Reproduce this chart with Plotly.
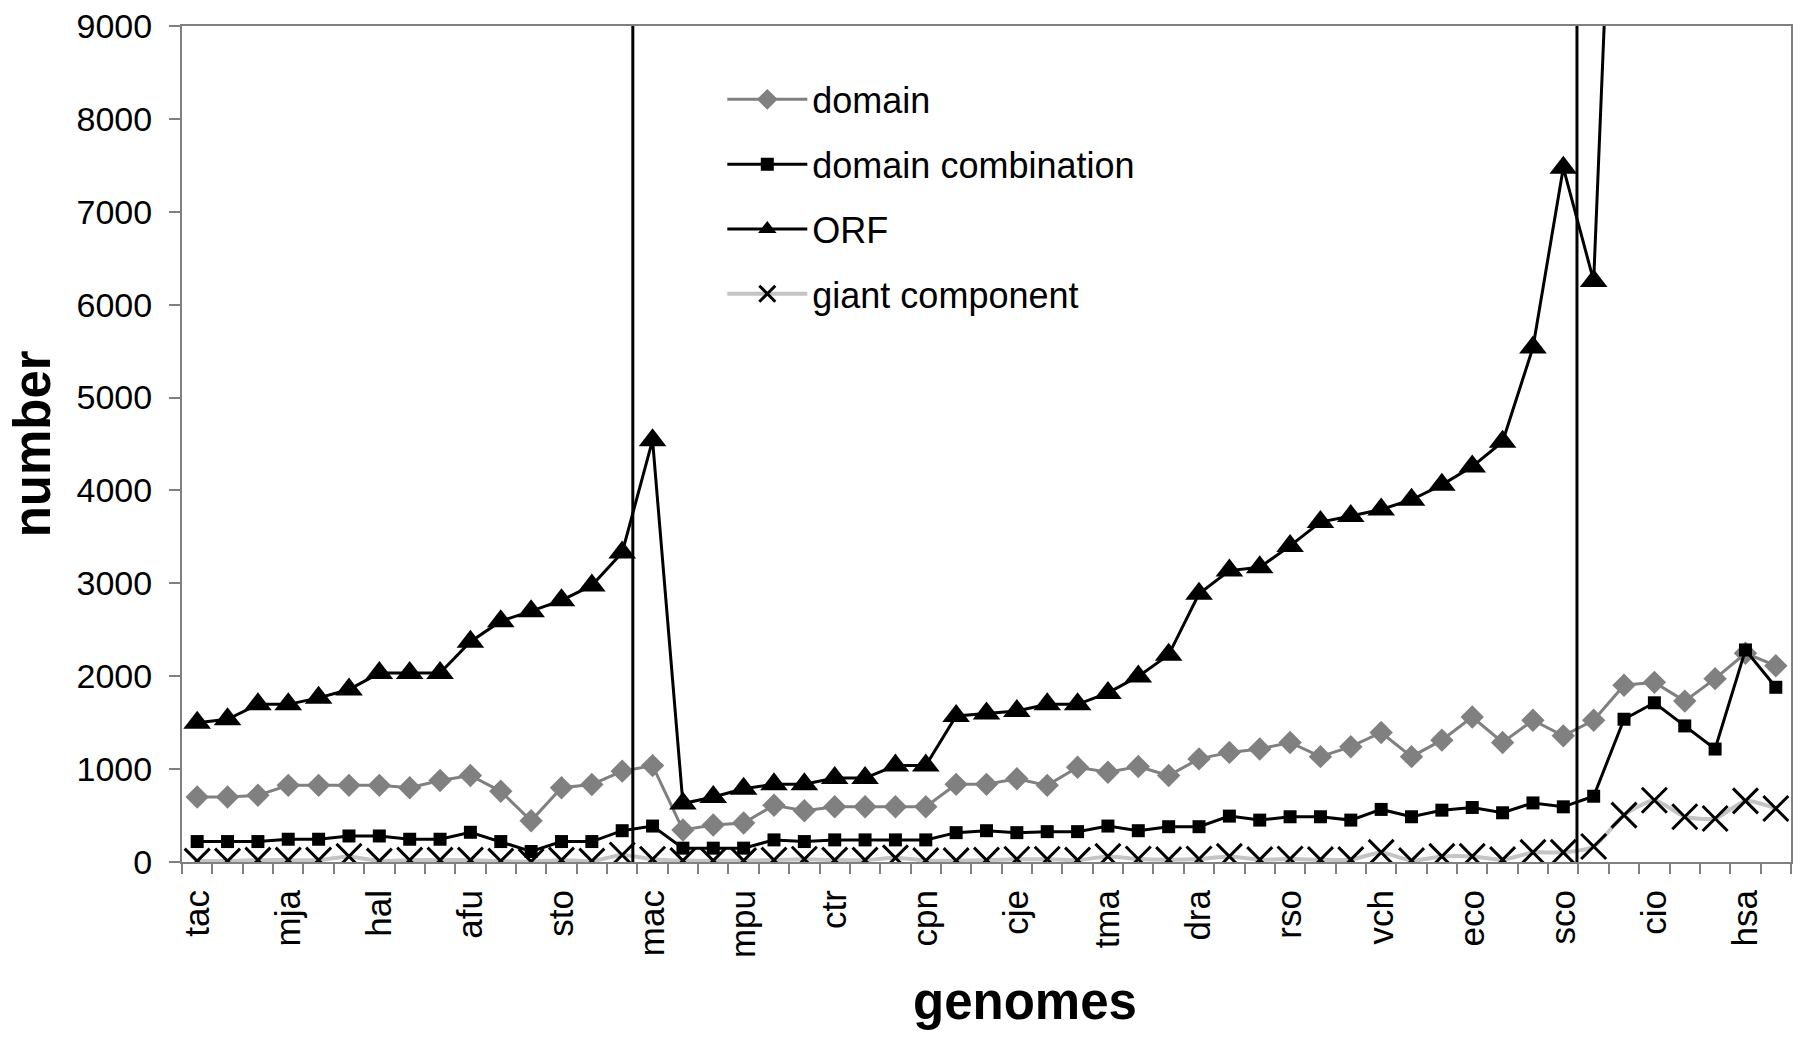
import plotly.graph_objects as go

# ---- data -------------------------------------------------------------
# 53 genomes ordered along the x axis; only every third one is labelled
labelled_genomes = ["tac", "mja", "hal", "afu", "sto", "mac", "mpu", "ctr", "cpn",
                    "cje", "tma", "dra", "rso", "vch", "eco", "sco", "cio", "hsa"]
n_genomes = 53
label_step = 3

domain = [700, 700, 718, 825, 825, 825, 825, 800, 878, 931, 761, 444, 800, 835, 978,
          1038, 345, 398, 420, 611, 551, 594, 594, 594, 594, 836, 836, 897, 825, 1020,
          967, 1028, 931, 1110, 1180, 1216, 1287, 1134, 1241, 1394, 1134, 1312, 1561,
          1287, 1526, 1358, 1526, 1903, 1934, 1732, 1974, 2247, 2113]

domain_combination = [220, 220, 220, 245, 245, 280, 280, 245, 245, 320, 220, 113, 220,
                      220, 337, 387, 149, 149, 149, 238, 220, 238, 238, 238, 238, 316,
                      337, 316, 327, 327, 387, 337, 380, 380, 494, 451, 487, 487, 451,
                      566, 487, 558, 587, 530, 636, 594, 708, 1537, 1714, 1465, 1216,
                      2283, 1881]

orf = [1500, 1536, 1697, 1697, 1767, 1857, 2034, 2034, 2034, 2372, 2593, 2700, 2817,
       2977, 3332, 4541, 629, 700, 789, 836, 836, 903, 903, 1038, 1038, 1572, 1600,
       1625, 1697, 1697, 1820, 1998, 2230, 2888, 3137, 3172, 3403, 3660, 3724, 3795,
       3900, 4060, 4257, 4524, 5538, 7475, 6256, 14200, None, None, None, None, None]

giant_component = [10, 10, 20, 20, 20, 60, 10, 20, 20, 20, 10, 5, 20, 10, 75, 30, 15,
                   15, 15, 20, 30, 20, 20, 45, 15, 15, 20, 30, 30, 20, 60, 32, 25, 32,
                   60, 25, 32, 25, 25, 103, 15, 60, 60, 25, 103, 103, 167, 505, 665,
                   487, 469, 658, 576]

# boundaries between archaea | bacteria | eukaryotes (in genome-index units)
kingdom_boundaries = [14.35, 45.45]

# ---- figure -----------------------------------------------------------
x = list(range(n_genomes))
FONT = "Liberation Sans, Arial, sans-serif"

fig = go.Figure()

fig.add_trace(go.Scatter(
    x=x, y=domain, name="domain", mode="lines+markers", legendgroup="a",
    line=dict(color="#808080", width=3),
    marker=dict(symbol="diamond", size=18, color="#808080",
                line=dict(color="#808080", width=0)),
))
fig.add_trace(go.Scatter(
    x=x, y=domain_combination, name="domain combination", mode="lines+markers",
    legendgroup="b",
    line=dict(color="black", width=3),
    marker=dict(symbol="square", size=13, color="black"),
))
fig.add_trace(go.Scatter(
    x=x, y=orf, name="ORF", mode="lines+markers", legendgroup="c",
    line=dict(color="black", width=3),
    marker=dict(symbol="triangle-up", size=24, color="black"),
    connectgaps=False,
))
fig.add_trace(go.Scatter(
    x=x, y=giant_component, name="giant component", mode="lines+markers",
    legendgroup="d",
    line=dict(color="#c4c4c4", width=4, shape="spline", smoothing=0.6),
    marker=dict(symbol="x-thin", size=25, color="black",
                line=dict(color="black", width=3)),
))

for b in kingdom_boundaries:
    fig.add_shape(type="line", xref="x", yref="y", x0=b, x1=b, y0=0, y1=9050,
                  line=dict(color="black", width=3), layer="above")

tick_positions = list(range(0, n_genomes, label_step))[:len(labelled_genomes)]

fig.update_layout(
    width=1800, height=1038,
    margin=dict(l=182, r=7, t=20, b=176),
    paper_bgcolor="white", plot_bgcolor="white",
    font=dict(family=FONT, color="black"),
    showlegend=True,
    legend=dict(
        x=0.3358, y=0.948, xanchor="left", yanchor="top",
        font=dict(family=FONT, size=36, color="black"),
        bgcolor="rgba(0,0,0,0)", tracegroupgap=15, itemwidth=80,
    ),
    xaxis=dict(
        range=[-0.5, n_genomes - 0.5],
        tickmode="array", tickvals=tick_positions, ticktext=labelled_genomes,
        tickangle=-90, ticks="", showgrid=False, zeroline=False,
        tickfont=dict(family=FONT, size=35, color="black"),
        showline=True, linecolor="#808080", linewidth=2, mirror=True,
        minor=dict(tickmode="linear", tick0=-0.5, dtick=1, ticks="outside",
                   ticklen=10, tickcolor="#808080", tickwidth=1.5, showgrid=False),
        ticklabelstandoff=12,
    ),
    yaxis=dict(
        range=[0, 9000], dtick=1000, tick0=0,
        ticks="outside", ticklen=11, tickcolor="#808080", tickwidth=1.5,
        showgrid=False, zeroline=False,
        tickfont=dict(family=FONT, size=34, color="black"),
        showline=True, linecolor="#808080", linewidth=2, mirror=True,
        ticklabelstandoff=10,
    ),
    annotations=[
        dict(text="<b>number</b>", xref="paper", yref="paper", x=-0.093, y=0.5,
             textangle=-90, showarrow=False, xanchor="center", yanchor="middle",
             font=dict(family=FONT, size=51, color="black")),
        dict(text="<b>genomes</b>", xref="paper", yref="paper", x=0.524, y=-0.167,
             showarrow=False, xanchor="center", yanchor="middle",
             font=dict(family=FONT, size=51, color="black")),
    ],
)

fig.write_html("out.html")
